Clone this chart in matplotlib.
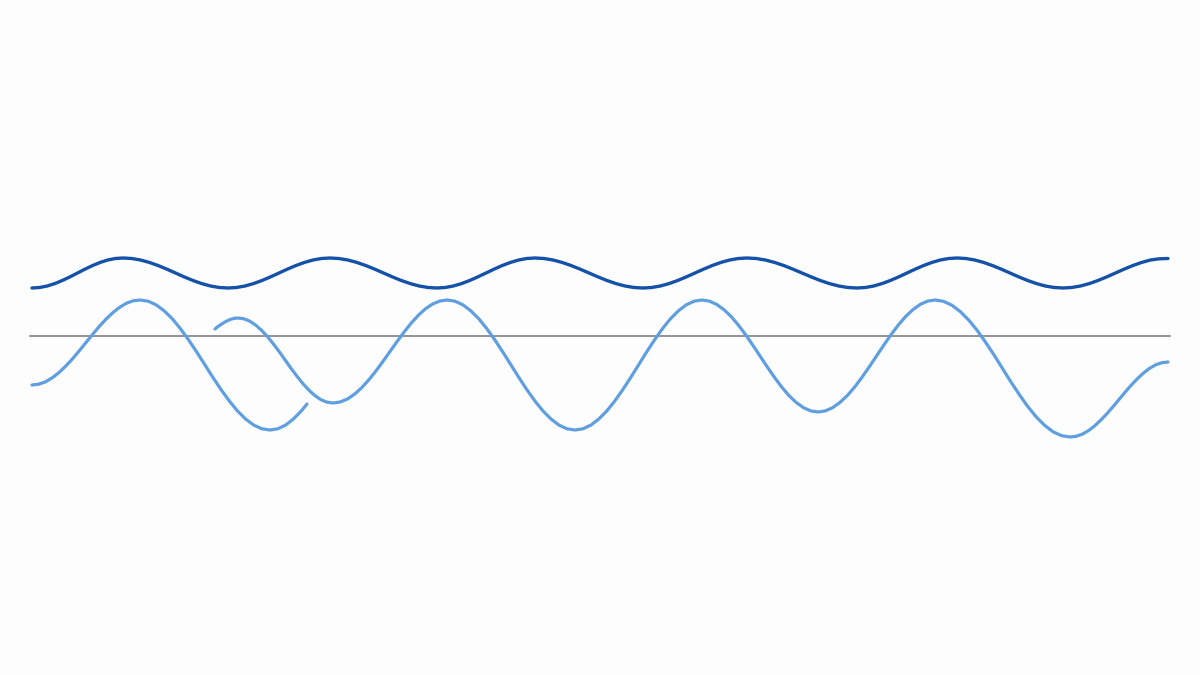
import matplotlib
matplotlib.use("Agg")
import matplotlib.pyplot as plt

# 기준선 (수평선) 위치와 범위
baseline_x = [30, 1170]
baseline_y = [0, 0]

# 위쪽 진한 파동 (완만한 진폭)
dark_x = [32, 39.6, 47.2, 54.75, 62.3, 69.9, 77.5, 85.1, 92.7, 100.25, 107.8, 115.4, 123,
          131.75, 140.5, 149.25, 158, 166.75, 175.5, 184.25, 193, 201.75, 210.5, 219.25, 228,
          236.5, 245, 253.5, 262, 270.5, 279, 287.5, 296, 304.5, 313, 321.5, 330,
          338.9, 347.8, 356.75, 365.7, 374.6, 383.5, 392.4, 401.3, 410.25, 419.2, 428.1, 437,
          445.2, 453.3, 461.5, 469.7, 477.8, 486, 494.2, 502.3, 510.5, 518.7, 526.8, 535,
          544, 553, 562, 571, 580, 589, 598, 607, 616, 625, 634, 643,
          651.7, 660.3, 669, 677.7, 686.3, 695, 703.7, 712.3, 721, 729.7, 738.3, 747,
          756.2, 765.3, 774.5, 783.7, 792.8, 802, 811.2, 820.3, 829.5, 838.7, 847.8, 857,
          865.3, 873.7, 882, 890.3, 898.7, 907, 915.3, 923.7, 932, 940.3, 948.7, 957,
          965.8, 974.7, 983.5, 992.3, 1001.2, 1010, 1018.8, 1027.7, 1036.5, 1045.3, 1054.2, 1063,
          1071.75, 1080.5, 1089.25, 1098, 1106.75, 1115.5, 1124.25, 1133, 1141.75, 1150.5, 1159.25, 1168]
dark_y = [48, 48.5, 50, 52.4, 55.5, 59.1, 63, 66.9, 70.5, 73.6, 76, 77.5, 78,
          77.5, 76, 73.6, 70.5, 66.9, 63, 59.1, 55.5, 52.4, 50, 48.5, 48,
          48.5, 50, 52.4, 55.5, 59.1, 63, 66.9, 70.5, 73.6, 76, 77.5, 78,
          77.5, 76, 73.6, 70.5, 66.9, 63, 59.1, 55.5, 52.4, 50, 48.5, 48,
          48.5, 50, 52.4, 55.5, 59.1, 63, 66.9, 70.5, 73.6, 76, 77.5, 78,
          77.5, 76, 73.6, 70.5, 66.9, 63, 59.1, 55.5, 52.4, 50, 48.5, 48,
          48.5, 50, 52.4, 55.5, 59.1, 63, 66.9, 70.5, 73.6, 76, 77.5, 78,
          77.5, 76, 73.6, 70.5, 66.9, 63, 59.1, 55.5, 52.4, 50, 48.5, 48,
          48.5, 50, 52.4, 55.5, 59.1, 63, 66.9, 70.5, 73.6, 76, 77.5, 78,
          77.5, 76, 73.6, 70.5, 66.9, 63, 59.1, 55.5, 52.4, 50, 48.5, 48,
          48.5, 50, 52.4, 55.5, 59.1, 63, 66.9, 70.5, 73.6, 76, 77.2, 77.5]

# 아래쪽 연한 파동 - 첫 번째 조각
light1_x = [32, 38.75, 45.5, 52.25, 59, 65.75, 72.5, 79.25, 86, 92.75, 99.5, 106.25, 113, 119.75, 126.5, 133.25, 140,
            148.1, 156.25, 164.4, 172.5, 180.6, 188.75, 196.9, 205, 213.1, 221.25, 229.4, 237.5, 245.6, 253.75, 261.9, 270,
            277.8, 285.6, 293.4, 301.25, 307]
light1_y = [-49, -48.2, -45.8, -41.8, -36.5, -30.1, -22.8, -14.8, -6.5, 1.8, 9.8, 17.1, 23.5, 28.8, 32.8, 35.2, 36,
            34.8, 31.1, 25.0, 17, 7.1, -4.1, -16.3, -29, -41.7, -53.9, -65.1, -75, -83, -89.1, -92.8, -94,
            -92.8, -89.1, -83, -75, -68]

# 아래쪽 연한 파동 - 두 번째 조각
light2_x = [215, 218, 221, 224, 227, 230, 234, 238,
            243.9, 249.9, 255.8, 261.75, 267.7, 273.6, 279.6, 285.5, 291.4, 297.4, 303.3, 309.25, 315.2, 321.1, 327.1, 333,
            340.1, 347.25, 354.4, 361.5, 368.6, 375.75, 382.9, 390, 397.1, 404.25, 411.4, 418.5, 425.6, 432.75, 439.9, 447,
            455, 463, 471, 479, 487, 495, 503, 511, 519, 527, 535, 543, 551, 559, 567, 575,
            582.9, 590.9, 598.8, 606.75, 614.7, 622.6, 630.6, 638.5, 646.4, 654.4, 662.3, 670.25, 678.2, 686.1, 694.1, 702,
            709.25, 716.5, 723.75, 731, 738.25, 745.5, 752.75, 760, 767.25, 774.5, 781.75, 789, 796.25, 803.5, 810.75, 818,
            825.3, 832.6, 839.9, 847.25, 854.6, 861.9, 869.2, 876.5, 883.8, 891.1, 898.4, 905.75, 913.1, 920.4, 927.7, 935,
            943.4, 951.9, 960.3, 968.75, 977.2, 985.6, 994.1, 1002.5, 1010.9, 1019.4, 1027.8, 1036.25, 1044.7, 1053.1, 1061.6, 1070,
            1076.1, 1082.25, 1088.4, 1094.5, 1100.6, 1106.75, 1112.9, 1119, 1125.1, 1131.25, 1137.4, 1143.5, 1149.6, 1155.75, 1161.9, 1168]
light2_y = [7, 9.5, 11.5, 13.5, 15, 16.5, 17.6, 18,
            17.2, 14.8, 10.8, 5.5, -0.9, -8.2, -16.2, -24.5, -32.8, -40.8, -48.1, -54.5, -59.8, -63.8, -66.2, -67,
            -66.0, -63.1, -58.3, -51.9, -44.1, -35.2, -25.5, -15.5, -5.5, 4.2, 13.1, 20.9, 27.3, 32.1, 35.0, 36,
            34.8, 31.1, 25.0, 17, 7.1, -4.1, -16.3, -29, -41.7, -53.9, -65.1, -75, -83, -89.1, -92.8, -94,
            -92.8, -89.1, -83, -75, -65.1, -53.9, -41.7, -29, -16.3, -4.1, 7.1, 17, 25, 31.1, 34.8, 36,
            34.9, 31.7, 26.5, 19.6, 11.1, 1.4, -9.1, -20, -30.9, -41.4, -51.1, -59.6, -66.5, -71.7, -74.9, -76,
            -74.9, -71.7, -66.5, -59.6, -51.1, -41.4, -30.9, -20, -9.1, 1.4, 11.1, 19.6, 26.5, 31.7, 34.9, 36,
            34.7, 30.8, 24.4, 15.9, 5.6, -6.3, -19.1, -32.5, -45.9, -58.7, -70.6, -80.9, -89.4, -95.8, -99.7, -101,
            -100.3, -98.2, -94.7, -90, -84.3, -77.9, -70.8, -63.5, -56.2, -49.1, -42.7, -37, -32.3, -28.8, -26.7, -26]

dark_color = "#1451a8"
light_color = "#5f9fe0"
line_color = "#8a8a8a"

fig = plt.figure(figsize=(12, 6.75), dpi=100)
fig.patch.set_facecolor("#fdfdfd")
ax = fig.add_axes([0, 0, 1, 1])
ax.set_facecolor("#fdfdfd")

ax.plot(baseline_x, baseline_y, color=line_color, lw=1.3, zorder=1)
ax.plot(dark_x, dark_y, color=dark_color, lw=2.4,
        solid_capstyle="round", solid_joinstyle="round", zorder=3)
ax.plot(light1_x, light1_y, color=light_color, lw=2.3,
        solid_capstyle="round", solid_joinstyle="round", zorder=2)
ax.plot(light2_x, light2_y, color=light_color, lw=2.3,
        solid_capstyle="round", solid_joinstyle="round", zorder=2)

ax.set_xlim(0, 1200)
ax.set_ylim(-339, 336)
ax.axis("off")

fig.savefig("out.png", dpi=100, facecolor=fig.get_facecolor())
